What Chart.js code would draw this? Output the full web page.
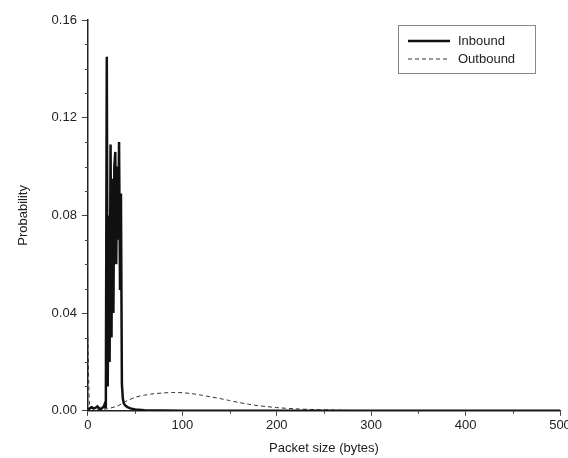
<!DOCTYPE html>
<html>
<head>
<meta charset="utf-8">
<script src="https://cdn.jsdelivr.net/npm/chart.js@4/dist/chart.umd.min.js"></script>
<style>
  html, body { margin: 0; padding: 0; background: #fff; }
  #wrap { width: 568px; height: 458px; }
</style>
</head>
<body>
<div id="wrap"><canvas id="sizeChart" width="568" height="458"></canvas></div>
<script>
// packet size (bytes) and probability
const inboundX = [0, 2, 4, 6, 8, 10, 12, 14, 16, 17, 18, 19, 20, 21, 22, 23, 24, 25, 26, 27, 28, 29, 30,
    31, 32, 33, 34, 35, 36, 37, 38, 40, 42, 45, 50, 60, 80, 100, 200, 300, 400, 500];
const inboundY = [0.0005, 0.001, 0.0015, 0.001, 0.0012, 0.0018, 0.001, 0.0008, 0.0015, 0.002, 0.003,
    0.001, 0.145, 0.01, 0.08, 0.02, 0.109, 0.03, 0.095, 0.04, 0.1, 0.106, 0.06,
    0.1, 0.07, 0.11, 0.05, 0.089, 0.011, 0.005, 0.003, 0.002, 0.0015, 0.001, 0.0005, 0.0002, 0.0001, 0, 0, 0, 0, 0];

const outboundX = [0, 1, 2, 5, 10, 20, 30, 36, 40, 50, 60, 70, 80, 90, 100, 110, 120, 130, 140, 150,
    160, 170, 180, 190, 200, 220, 240, 260, 280, 300, 350, 400, 500];
const outboundY = [0.03, 0.01, 0.002, 0.0008, 0.0005, 0.0008, 0.0018, 0.0029, 0.0038, 0.0055, 0.0064,
    0.007, 0.0073, 0.0075, 0.0074, 0.007, 0.0064, 0.0057, 0.005, 0.0042, 0.0034, 0.0027, 0.0021, 0.0017,
    0.0013, 0.0008, 0.0005, 0.0003, 0.00015, 0.00008, 0.00002, 0, 0];

const xTicks = [0, 100, 200, 300, 400, 500];
const yTicks = [0, 0.04, 0.08, 0.12, 0.16];

const toPoints = (xs, ys) => xs.map((x, i) => ({ x: x, y: ys[i] }));

const fontFamily = '"Liberation Sans", Arial, sans-serif';
const textColor = '#222';

// minor tick marks on both axes
const minorTicks = {
    id: 'minorTicks',
    afterDraw(chart) {
        const c = chart.ctx;
        const xs = chart.scales.x, ys = chart.scales.y;
        c.save();
        c.strokeStyle = '#444';
        c.lineWidth = 1;
        c.beginPath();
        for (let v = 0.01; v < 0.16; v += 0.01) {
            if (Math.abs(v / 0.04 - Math.round(v / 0.04)) < 1e-6) continue;
            const py = Math.round(ys.getPixelForValue(v)) + 0.5;
            c.moveTo(xs.left - 3, py);
            c.lineTo(xs.left, py);
        }
        for (let v = 50; v < 500; v += 100) {
            const px = Math.round(xs.getPixelForValue(v)) + 0.5;
            c.moveTo(px, ys.bottom);
            c.lineTo(px, ys.bottom + 3);
        }
        c.stroke();
        c.restore();
    }
};

// boxed legend in the top right corner of the plot
const boxLegend = {
    id: 'boxLegend',
    afterDraw(chart) {
        const c = chart.ctx;
        const area = chart.chartArea;
        const left = area.right - 162, top = area.top + 5;
        c.save();
        c.strokeStyle = '#888';
        c.lineWidth = 1;
        c.strokeRect(left + 0.5, top + 0.5, 137, 48);
        c.font = '13px ' + fontFamily;
        c.fillStyle = textColor;
        c.textBaseline = 'middle';
        chart.data.datasets.forEach((ds, i) => {
            const y = top + 16 + i * 18;
            c.beginPath();
            c.strokeStyle = ds.borderColor;
            c.lineWidth = ds.borderWidth;
            c.setLineDash(ds.borderDash || []);
            c.moveTo(left + 10, y);
            c.lineTo(left + 52, y);
            c.stroke();
            c.setLineDash([]);
            c.fillText(ds.label, left + 60, y);
        });
        c.restore();
    }
};

new Chart(document.getElementById('sizeChart'), {
    type: 'line',
    data: {
        datasets: [
            {
                label: 'Inbound',
                data: toPoints(inboundX, inboundY),
                borderColor: '#111',
                borderWidth: 2.5,
                pointRadius: 0,
                tension: 0
            },
            {
                label: 'Outbound',
                data: toPoints(outboundX, outboundY),
                borderColor: '#333',
                borderWidth: 1,
                borderDash: [4, 3],
                pointRadius: 0,
                tension: 0.3
            }
        ]
    },
    options: {
        responsive: false,
        animation: false,
        layout: { padding: { left: 16, top: 20, right: 8, bottom: 2 } },
        plugins: {
            legend: { display: false },
            tooltip: { enabled: false }
        },
        scales: {
            x: {
                type: 'linear',
                min: 0,
                max: 500,
                afterBuildTicks: s => { s.ticks = xTicks.map(v => ({ value: v })); },
                afterFit: s => { s.paddingRight = 0; s.paddingLeft = 0; },
                grid: { drawOnChartArea: false, tickLength: 5, color: '#444' },
                border: { color: '#222', width: 1.5 },
                ticks: { color: textColor, font: { family: fontFamily, size: 13 }, padding: 2, maxRotation: 0 },
                title: { display: true, text: 'Packet size (bytes)', color: textColor,
                    font: { family: fontFamily, size: 13 }, padding: { top: 5, bottom: 0 } }
            },
            y: {
                min: 0,
                max: 0.16,
                afterBuildTicks: s => { s.ticks = yTicks.map(v => ({ value: v })); },
                afterFit: s => { s.paddingTop = 0; s.paddingBottom = 0; },
                grid: { drawOnChartArea: false, tickLength: 6, color: '#444' },
                border: { color: '#222', width: 1.5 },
                ticks: { color: textColor, font: { family: fontFamily, size: 13 }, padding: 5,
                    callback: v => v.toFixed(2) },
                title: { display: true, text: 'Probability', color: textColor,
                    font: { family: fontFamily, size: 13 }, padding: { top: 0, bottom: 15 } }
            }
        }
    },
    plugins: [minorTicks, boxLegend]
});
</script>
</body>
</html>
